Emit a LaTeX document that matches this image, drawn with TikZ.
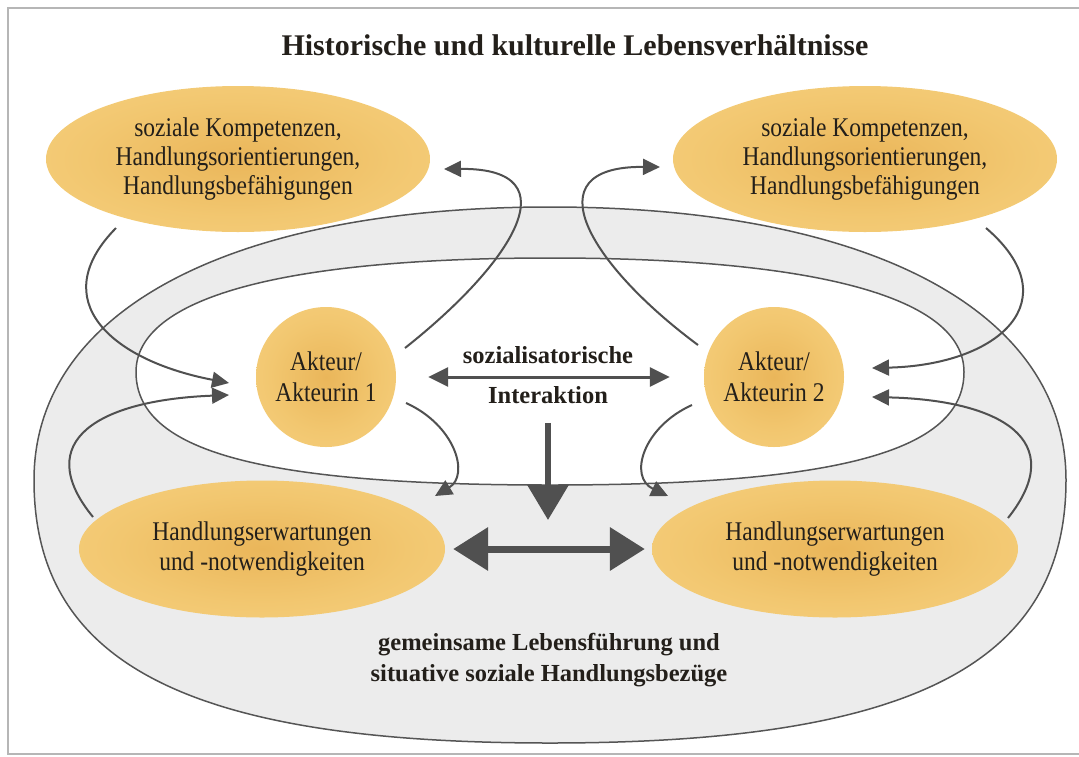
\documentclass[tikz,border=0pt]{standalone}
\usepackage{fontspec}
\setmainfont{Liberation Serif}
\newfontfamily\condserif{Liberation Serif}[FakeStretch=0.87]
\usetikzlibrary{arrows.meta,shapes.geometric}
\definecolor{yin}{RGB}{234,182,90}
\definecolor{ymid}{RGB}{242,199,112}
\definecolor{yout}{RGB}{249,216,140}
\definecolor{bandgray}{RGB}{236,236,236}
\definecolor{linegray}{RGB}{85,85,85}
\definecolor{arrgray}{RGB}{80,80,80}
\definecolor{framegray}{RGB}{182,182,182}
\definecolor{txt}{RGB}{35,31,26}
\pgfdeclareradialshading{yshade}{\pgfpoint{0bp}{0bp}}{color(0bp)=(yin); color(20bp)=(ymid); color(50bp)=(yout); color(75bp)=(yout)}
\begin{document}
\begin{tikzpicture}[x=1pt,y=-1pt,
  basefont/.style={font=\condserif\fontsize{27}{29.2}\selectfont, text=txt},
  boldfont/.style={font=\fontsize{24.5}{31}\selectfont\bfseries, text=txt},
  yellip/.style={ellipse, shade, shading=yshade, draw=none, align=center, inner sep=0pt, basefont},
  actor/.style={circle, shade, shading=yshade, draw=none, minimum size=140pt, align=center, inner sep=0pt, text=txt, font=\condserif\fontsize{27}{30.5}\selectfont},
  band/.style={draw=linegray, line width=1.5pt},
  curvearr/.style={draw=arrgray, line width=2pt, -{Triangle[length=17pt,width=16pt]}},
  thinarr/.style={draw=arrgray, line width=3pt, {Triangle[length=20pt,width=19pt]}-{Triangle[length=20pt,width=19pt]}},
  downarr/.style={draw=arrgray, line width=6pt, -{Triangle[length=35pt,width=40pt]}},
  thickarr/.style={draw=arrgray, line width=7pt, {Triangle[length=35pt,width=42pt]}-{Triangle[length=35pt,width=42pt]}}
]
\useasboundingbox (0,0) rectangle (1079,756);
\draw[framegray, line width=2pt] (1079,8) -- (8,8) -- (8,754) -- (1079,754);

\node[text=txt, font=\fontsize{30}{36}\selectfont\bfseries, anchor=base] (title) at (575,55) {Historische und kulturelle Lebensverhältnisse};

% outer band and inner white field
\path[band, fill=bandgray] (34,480) .. controls (34,311) and (230,207) .. (550,207)
  .. controls (870,207) and (1066,311) .. (1066,480)
  .. controls (1066,664) and (911,743) .. (550,743)
  .. controls (189,743) and (34,664) .. (34,480) -- cycle;
\path[band, fill=white] (136,372) .. controls (136,298) and (281,258) .. (550,258)
  .. controls (819,258) and (964,298) .. (964,372)
  .. controls (964,451) and (840,485) .. (550,485)
  .. controls (260,485) and (136,451) .. (136,372) -- cycle;

% yellow nodes
\node[yellip, minimum width=384pt, minimum height=146pt] (topL) at (238,159) {soziale Kompetenzen,\\Handlungsorientierungen,\\Handlungsbefähigungen};
\node[yellip, minimum width=384pt, minimum height=146pt] (topR) at (865,159) {soziale Kompetenzen,\\Handlungsorientierungen,\\Handlungsbefähigungen};
\node[actor] (act1) at (326,377) {Akteur/\\Akteurin 1};
\node[actor] (act2) at (774,377) {Akteur/\\Akteurin 2};
\node[yellip, minimum width=366pt, minimum height=137pt] (botL) at (262,549) {Handlungserwartungen\\und -notwendigkeiten};
\node[yellip, minimum width=366pt, minimum height=137pt] (botR) at (835,549) {Handlungserwartungen\\und -notwendigkeiten};

% central labels
\node[boldfont, anchor=base] (soz) at (548,363) {sozialisatorische};
\node[boldfont, anchor=base] (inter) at (548,403) {Interaktion};
\node[boldfont, align=center] (life) at (549,660) {gemeinsame Lebensführung und\\situative soziale Handlungsbezüge};

% arrow end points
\coordinate (a1s) at (116,228); \coordinate (a1e) at (229,383);
\coordinate (a2s) at (405,348); \coordinate (a2e) at (444,169);
\coordinate (a3s) at (93,517);  \coordinate (a3e) at (229,395);
\coordinate (a4s) at (406,403); \coordinate (a4e) at (435,496);
\coordinate (a5s) at (986,228); \coordinate (a5e) at (872,368);
\coordinate (a6s) at (698,345); \coordinate (a6e) at (660,167);
\coordinate (a7s) at (1008,518);\coordinate (a7e) at (872,397);
\coordinate (a8s) at (692,405); \coordinate (a8e) at (668,496);
\coordinate (dtip) at (548,520);

% curved arrows
\draw[curvearr] (a1s) .. controls (45,300) and (110,360) .. (a1e);
\draw[curvearr] (a2s) .. controls (510,265) and (575,168) .. (a2e);
\draw[curvearr] (a3s) .. controls (30,440) and (100,400) .. (a3e);
\draw[curvearr] (a4s) .. controls (455,425) and (470,475) .. (a4e);
\draw[curvearr] (a5s) .. controls (1070,300) and (1000,365) .. (a5e);
\draw[curvearr] (a6s) .. controls (590,265) and (530,166) .. (a6e);
\draw[curvearr] (a7s) .. controls (1070,440) and (1000,400) .. (a7e);
\draw[curvearr] (a8s) .. controls (643,427) and (628,477) .. (a8e);

% straight arrows
\draw[thinarr, shorten <=32pt, shorten >=34pt] (act1) -- (act2);
\draw[downarr, shorten <=16pt] (inter.south) -- (dtip);
\draw[thickarr, shorten <=8pt, shorten >=7pt] (botL) -- (botR);
\end{tikzpicture}
\end{document}
